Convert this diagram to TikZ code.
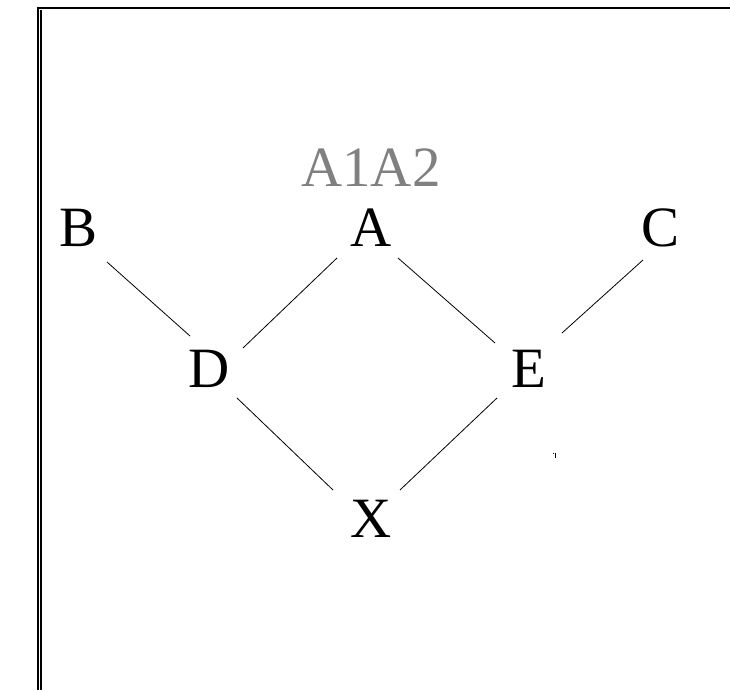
\documentclass[tikz,border=0pt]{standalone}
\usepackage{fontspec}
\setmainfont{Liberation Serif}
\begin{document}
\begin{tikzpicture}[x=1pt,y=1pt,
  lbl/.style={inner sep=0pt,anchor=base,font=\fontsize{57}{60}\selectfont},
  edge/.style={line width=0.8pt},
  frame/.style={line width=2.2pt}]
\useasboundingbox (0,0) rectangle (730,692);
% frame
\draw[frame] (36.5,684.2) -- (730,684.2);
\draw[line width=2pt] (37.7,685.3) -- (37.7,2);
\draw[line width=2pt] (40.7,682) -- (40.7,2);
% nodes
\node[lbl,text=gray] (A12) at (371,505) {A1A2};
\node[lbl] (A) at (371,445) {A};
\node[lbl] (B) at (79,445) {B};
\node[lbl] (C) at (660,445) {C};
\node[lbl] (D) at (209,304) {D};
\node[lbl] (E) at (529,304) {E};
\node[lbl] (X) at (371,154) {X};
% edges
\draw[edge] ([shift={(28,-15)}]B.base) -- ([shift={(-19,52)}]D.base);
\draw[edge] ([shift={(-34,-11)}]A.base) -- ([shift={(34,40)}]D.base);
\draw[edge] ([shift={(27,-11)}]A.base) -- ([shift={(-34,45)}]E.base);
\draw[edge] ([shift={(-17,-13)}]C.base) -- ([shift={(33,55)}]E.base);
\draw[edge] ([shift={(28,-10)}]D.base) -- ([shift={(-38,48)}]X.base);
\draw[edge] ([shift={(-32,-10)}]E.base) -- ([shift={(29,48)}]X.base);
% stray mark
\fill (554.5,234) rectangle (556,239);
\fill (552.5,237.5) rectangle (553.7,238.7);
\end{tikzpicture}
\end{document}
